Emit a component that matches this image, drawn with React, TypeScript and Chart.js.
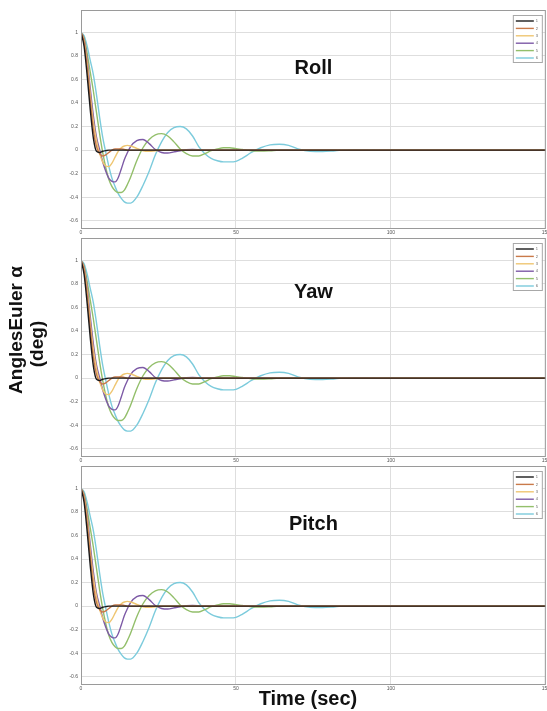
import React, { useEffect, useRef } from "react";
import { Chart, registerables } from "chart.js";

Chart.register(...registerables);

const times = [0, 1, 2, 3, 4, 5, 6, 7, 8, 9, 10, 11, 12, 13, 14, 15, 16, 18, 20, 22, 24, 26, 28, 30, 32, 34, 36, 38, 40, 42, 44, 46, 48, 50, 52, 55, 58, 61, 64, 67, 70, 74, 78, 82, 86, 90, 100, 110, 120, 130, 140, 150];

const seriesLabels = ["1", "2", "3", "4", "5", "6"];
const seriesColors = ["#1a1a1a", "#c97a4a", "#efc672", "#7d5aa6", "#93bf6b", "#7ccbdc"];

const sBlack = [1, 0.88, 0.63, 0.34, 0.1, -0.01, -0.02, -0.01, -0.004, 0, 0, 0, 0, 0, 0, 0, 0, 0, 0, 0, 0, 0, 0, 0, 0, 0, 0, 0, 0, 0, 0, 0, 0, 0, 0, 0, 0, 0, 0, 0, 0, 0, 0, 0, 0, 0, 0, 0, 0, 0, 0, 0];
const sBrown = [1, 0.92, 0.7, 0.42, 0.17, 0.03, -0.03, -0.05, -0.04, -0.02, 0, 0.01, 0.01, 0.01, 0.005, 0, 0, 0, 0, 0, 0, 0, 0, 0, 0, 0, 0, 0, 0, 0, 0, 0, 0, 0, 0, 0, 0, 0, 0, 0, 0, 0, 0, 0, 0, 0, 0, 0, 0, 0, 0, 0];
const sYellow = [1, 0.93, 0.74, 0.47, 0.24, 0.08, -0.03, -0.1, -0.135, -0.14, -0.11, -0.06, -0.01, 0.02, 0.035, 0.04, 0.035, 0.015, -0.005, -0.01, -0.005, 0, 0, 0, 0, 0, 0, 0, 0, 0, 0, 0, 0, 0, 0, 0, 0, 0, 0, 0, 0, 0, 0, 0, 0, 0, 0, 0, 0, 0, 0, 0];
const sPurple = [1, 0.94, 0.77, 0.52, 0.29, 0.11, 0.005, -0.1, -0.18, -0.24, -0.265, -0.27, -0.235, -0.16, -0.08, -0.02, 0.03, 0.08, 0.09, 0.055, 0.005, -0.02, -0.025, -0.015, -0.005, 0.003, 0.005, 0.003, 0, 0, 0, 0, 0, 0, 0, 0, 0, 0, 0, 0, 0, 0, 0, 0, 0, 0, 0, 0, 0, 0, 0, 0];
const sGreen = [1, 0.95, 0.82, 0.66, 0.5, 0.32, 0.14, -0.02, -0.15, -0.25, -0.31, -0.345, -0.36, -0.36, -0.34, -0.29, -0.23, -0.09, 0.02, 0.09, 0.13, 0.14, 0.12, 0.07, 0.01, -0.03, -0.05, -0.05, -0.03, -0.005, 0.01, 0.02, 0.02, 0.012, 0.005, -0.005, -0.008, -0.005, 0, 0, 0, 0, 0, 0, 0, 0, 0, 0, 0, 0, 0, 0];
const sCyan = [1, 0.97, 0.88, 0.76, 0.64, 0.47, 0.28, 0.11, -0.02, -0.14, -0.24, -0.31, -0.37, -0.41, -0.44, -0.45, -0.45, -0.4, -0.3, -0.18, -0.04, 0.07, 0.15, 0.19, 0.2, 0.18, 0.12, 0.03, -0.03, -0.07, -0.09, -0.1, -0.1, -0.095, -0.07, -0.02, 0.02, 0.045, 0.05, 0.04, 0.01, -0.01, -0.012, -0.005, 0.002, 0.003, 0, 0, 0, 0, 0, 0];

const seriesValues = [sBlack, sBrown, sYellow, sPurple, sGreen, sCyan];

const yTicks = [-0.6, -0.4, -0.2, 0, 0.2, 0.4, 0.6, 0.8, 1];
const xTicks = [0, 50, 100, 150];

const panelTitles = ["Roll", "Yaw", "Pitch"];
const panelTitleX = [75, 75, 75];
const panelTitleY = [0.71, 0.74, 0.71];

const FONT = "'Liberation Sans', Arial, sans-serif";

function Panel({ index, top }: { index: number; top: number }) {
  const ref = useRef<HTMLCanvasElement>(null);
  useEffect(() => {
    const canvas = ref.current!;
    const boxPlugin = {
      id: "boxAndText",
      afterDatasetsDraw(chart: any) {
        const { ctx, chartArea, scales } = chart;
        ctx.save();
        ctx.strokeStyle = "#9a9a9a";
        ctx.lineWidth = 1;
        ctx.strokeRect(chartArea.left + 0.5, chartArea.top + 0.5, chartArea.right - chartArea.left - 1, chartArea.bottom - chartArea.top - 1);
        // panel title
        ctx.fillStyle = "#111";
        ctx.font = `bold 20px ${FONT}`;
        ctx.textAlign = "center";
        ctx.textBaseline = "alphabetic";
        const tx = scales.x.getPixelForValue(panelTitleX[index]);
        const ty = scales.y.getPixelForValue(panelTitleY[index]) + 7;
        ctx.fillText(panelTitles[index], tx, ty);
        // legend
        const bw = 29;
        const bh = 47;
        const bx = chartArea.right - 33;
        const by = chartArea.top + 5;
        ctx.fillStyle = "#ffffff";
        ctx.fillRect(bx, by, bw, bh);
        ctx.strokeStyle = "#a8a8a8";
        ctx.strokeRect(bx + 0.5, by + 0.5, bw, bh);
        ctx.font = `4px ${FONT}`;
        ctx.textAlign = "left";
        ctx.textBaseline = "middle";
        chart.data.datasets.forEach((ds: any, i: number) => {
          const ly = by + 6 + i * 7.4;
          ctx.strokeStyle = ds.borderColor;
          ctx.lineWidth = 1.4;
          ctx.beginPath();
          ctx.moveTo(bx + 3, ly);
          ctx.lineTo(bx + 21, ly);
          ctx.stroke();
          ctx.fillStyle = "#666";
          ctx.fillText(ds.label, bx + 23, ly);
        });
        ctx.restore();
      },
    };
    const chart = new Chart(canvas, {
      type: "line",
      data: {
        datasets: seriesValues.map((vals, i) => ({
          label: seriesLabels[i],
          data: times.map((t, j) => ({ x: t, y: vals[j] })),
          borderColor: seriesColors[i],
          backgroundColor: seriesColors[i],
          borderWidth: 1.4,
          pointRadius: 0,
          fill: false,
          cubicInterpolationMode: "monotone" as const,
        })),
      },
      options: {
        animation: false,
        responsive: false,
        maintainAspectRatio: false,
        layout: { padding: { left: 0, right: 2, top: 10, bottom: 0 } },
        plugins: { legend: { display: false }, tooltip: { enabled: false }, title: { display: false } },
        scales: {
          x: {
            type: "linear",
            min: 0,
            max: 150,
            afterBuildTicks: (s: any) => {
              s.ticks = xTicks.map((v) => ({ value: v }));
            },
            afterFit: (s: any) => {
              s.height = 7;
            },
            grid: { color: "#dedede", drawTicks: false, lineWidth: 1 },
            border: { display: false },
            ticks: { font: { size: 5, family: FONT }, color: "#555", maxRotation: 0, autoSkip: false, padding: 1 },
          },
          y: {
            type: "linear",
            min: -0.67,
            max: 1.19,
            afterBuildTicks: (s: any) => {
              s.ticks = yTicks.map((v) => ({ value: v }));
            },
            afterFit: (s: any) => {
              s.width = 81;
            },
            grid: { color: "#dedede", drawTicks: false, lineWidth: 1 },
            border: { display: false },
            ticks: {
              font: { size: 5, family: FONT },
              color: "#555",
              padding: 3,
              callback: (v: any) => String(Math.round(Number(v) * 10) / 10),
            },
          },
        },
      },
      plugins: [boxPlugin],
    } as any);
    return () => chart.destroy();
  }, [index]);
  return (
    <canvas
      ref={ref}
      width={551}
      height={236}
      style={{ position: "absolute", left: 0, top, width: 551, height: 236 }}
    />
  );
}

export default function App() {
  return (
    <div style={{ position: "absolute", left: 0, top: 0, width: 547, height: 711, background: "#fff", overflow: "hidden", fontFamily: FONT }}>
      <Panel index={0} top={0} />
      <Panel index={1} top={228} />
      <Panel index={2} top={456} />
      <div
        style={{
          position: "absolute",
          left: 208,
          top: 689,
          width: 200,
          textAlign: "center",
          fontWeight: "bold",
          fontSize: 20,
          lineHeight: "19px",
          color: "#111",
          whiteSpace: "nowrap",
        }}
      >
        Time (sec)
      </div>
      <div
        style={{
          position: "absolute",
          left: 16 - 100,
          top: 330 - 11,
          width: 200,
          height: 22,
          lineHeight: "22px",
          textAlign: "center",
          fontWeight: "bold",
          fontSize: 19,
          color: "#111",
          whiteSpace: "nowrap",
          transform: "rotate(-90deg)",
          transformOrigin: "50% 50%",
        }}
      >
        AnglesEuler α
      </div>
      <div
        style={{
          position: "absolute",
          left: 37 - 100,
          top: 344 - 11,
          width: 200,
          height: 22,
          lineHeight: "22px",
          textAlign: "center",
          fontWeight: "bold",
          fontSize: 19,
          color: "#111",
          whiteSpace: "nowrap",
          transform: "rotate(-90deg)",
          transformOrigin: "50% 50%",
        }}
      >
        (deg)
      </div>
    </div>
  );
}
